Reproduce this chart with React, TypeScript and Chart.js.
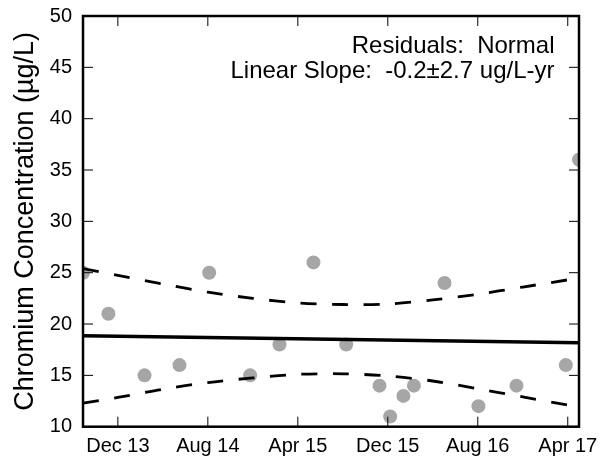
import React, { useEffect, useRef } from 'react';
import { Chart, registerables } from 'chart.js';

Chart.register(...registerables);

// x values are months counted from Dec 2013
const xMin = -3.1;
const xMax = 41.0;
const tickMonths = [0, 8, 16, 24, 32, 40];
const tickLabels = ['Dec 13', 'Aug 14', 'Apr 15', 'Dec 15', 'Aug 16', 'Apr 17'];

const yMin = 10;
const yMax = 50;
const yStep = 5;
const yTitle = 'Chromium Concentration (\u00b5g/L)';

const sampleMonths = [-3.1, -0.84, 2.37, 5.48, 8.12, 11.76, 14.37, 17.39, 20.3, 23.26, 24.21, 25.39, 26.32, 29.04, 32.06, 35.44, 39.83, 41.0];
const chromium = [25, 21, 15, 16, 25, 15, 18, 26, 18, 14, 11, 13, 14, 24, 12, 14, 16, 36];

const trendMonths = [-3.1, 41.0];
const trendValues = [18.87, 18.17];

const bandMonths = [-3.1, 0, 4, 8, 12, 16, 20, 24, 28, 32, 36, 40, 41.0];
const upperBand = [25.4, 24.75, 23.9, 23.1, 22.5, 22.05, 21.9, 21.95, 22.35, 22.9, 23.6, 24.3, 24.5];
const lowerBand = [12.3, 12.85, 13.65, 14.3, 14.75, 15.1, 15.15, 14.95, 14.45, 13.7, 12.9, 12.1, 11.9];

const annotationLines = ['Residuals:  Normal', 'Linear Slope:  -0.2\u00b12.7 ug/L-yr'];

const FONT = '"Liberation Sans", Arial, Helvetica, sans-serif';

const zip = (xs: number[], ys: number[]) => xs.map((x, i) => ({ x, y: ys[i] }));

const framePlugin = {
  id: 'frame',
  afterDraw(chart: any) {
    const { ctx, chartArea: a, scales } = chart;
    const xs = scales.x;
    const ys = scales.y;
    ctx.save();
    ctx.strokeStyle = '#000';
    ctx.lineWidth = 1;
    ctx.beginPath();
    for (const t of xs.ticks) {
      const p = xs.getPixelForValue(t.value);
      ctx.moveTo(p, a.bottom);
      ctx.lineTo(p, a.bottom - 10);
      ctx.moveTo(p, a.top);
      ctx.lineTo(p, a.top + 10);
    }
    for (const t of ys.ticks) {
      const p = ys.getPixelForValue(t.value);
      ctx.moveTo(a.left, p);
      ctx.lineTo(a.left + 10, p);
      ctx.moveTo(a.right, p);
      ctx.lineTo(a.right - 10, p);
    }
    ctx.stroke();
    ctx.lineWidth = 2.5;
    ctx.strokeRect(a.left, a.top, a.right - a.left, a.bottom - a.top);

    ctx.fillStyle = '#000';
    ctx.font = '24px ' + FONT;
    ctx.textAlign = 'right';
    ctx.textBaseline = 'alphabetic';
    ctx.fillText(annotationLines[0], a.right - 24.5, 52.5);
    ctx.fillText(annotationLines[1], a.right - 24.5, 77.5);
    ctx.restore();
  },
};

export default function App() {
  const ref = useRef<HTMLCanvasElement>(null);

  useEffect(() => {
    const chart = new Chart(ref.current as HTMLCanvasElement, {
      type: 'scatter',
      data: {
        datasets: [
          {
            data: zip(trendMonths, trendValues),
            showLine: true,
            borderColor: '#000',
            borderWidth: 3.5,
            pointRadius: 0,
            fill: false,
            clip: 0,
          } as any,
          {
            data: zip(bandMonths, upperBand),
            showLine: true,
            borderColor: '#000',
            borderWidth: 2.8,
            borderDash: [16, 15.5],
            tension: 0.3,
            pointRadius: 0,
            fill: false,
            clip: 0,
          } as any,
          {
            data: zip(bandMonths, lowerBand),
            showLine: true,
            borderColor: '#000',
            borderWidth: 2.8,
            borderDash: [16, 15.5],
            tension: 0.3,
            pointRadius: 0,
            fill: false,
            clip: 0,
          } as any,
          {
            data: zip(sampleMonths, chromium),
            backgroundColor: '#a6a6a6',
            borderWidth: 0,
            pointRadius: 7,
            pointHoverRadius: 7,
            clip: 0,
          } as any,
        ],
      },
      options: {
        responsive: false,
        animation: false,
        devicePixelRatio: 1,
        events: [],
        layout: { padding: { left: 0, top: 16, right: 21, bottom: 0 } },
        plugins: {
          legend: { display: false },
          tooltip: { enabled: false },
        },
        scales: {
          x: {
            type: 'linear',
            min: xMin,
            max: xMax,
            grid: { display: false, drawTicks: false },
            border: { display: false },
            afterBuildTicks: (s: any) => {
              s.ticks = tickMonths.map((v) => ({ value: v }));
            },
            afterFit: (s: any) => {
              s.height = 34.3;
              s.paddingLeft = 0;
              s.paddingRight = 0;
              s.paddingTop = 0;
              s.paddingBottom = 0;
            },
            ticks: {
              autoSkip: false,
              maxRotation: 0,
              minRotation: 0,
              padding: 8,
              color: '#000',
              font: { family: FONT, size: 20 },
              callback: (v: any) => {
                const i = tickMonths.indexOf(Number(v));
                return i >= 0 ? tickLabels[i] : '';
              },
            },
          },
          y: {
            type: 'linear',
            min: yMin,
            max: yMax,
            grid: { display: false, drawTicks: false },
            border: { display: false },
            afterFit: (s: any) => {
              s.width = 83;
              s.paddingLeft = 0;
              s.paddingRight = 0;
              s.paddingTop = 0;
              s.paddingBottom = 0;
            },
            ticks: {
              stepSize: yStep,
              padding: 11,
              color: '#000',
              font: { family: FONT, size: 20 },
            },
            title: {
              display: true,
              text: yTitle,
              color: '#000',
              font: { family: FONT, size: 27 },
              padding: { top: 9.5, bottom: 0 },
            },
          },
        },
      } as any,
      plugins: [framePlugin],
    });
    return () => chart.destroy();
  }, []);

  return (
    <div style={{ position: 'fixed', left: 0, top: 0, width: 600, height: 461, background: '#fff' }}>
      <canvas ref={ref} width={600} height={461} style={{ display: 'block', width: 600, height: 461 }} />
    </div>
  );
}
